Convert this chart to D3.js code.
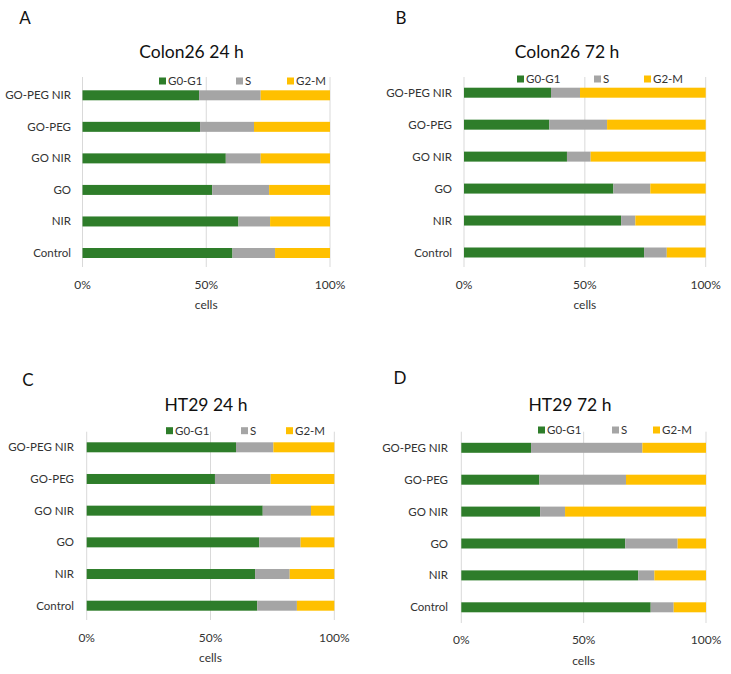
<!DOCTYPE html>
<html><head><meta charset="utf-8">
<script src="https://cdn.jsdelivr.net/npm/d3@7"></script>
<style>
html,body{margin:0;padding:0;background:#fff;}
svg{display:block;font-family:Lato,"Open Sans",sans-serif;}
</style></head>
<body><svg id="c" width="731" height="674"></svg>
<script>
// ---------- data ----------
const categories = ["GO-PEG NIR","GO-PEG","GO NIR","GO","NIR","Control"];
const series = ["G0-G1","S","G2-M"];
const xTicks = [0, 50, 100];
const titles = ["Colon26 24 h","Colon26 72 h","HT29 24 h","HT29 72 h"];
const panelLabels = ["A","B","C","D"];
// G0-G1 and S percentages per category (G2-M is the remainder to 100%)
const colon24_G0G1 = [47.1, 47.5, 57.9, 52.4, 63.0, 60.6];
const colon24_S    = [24.9, 21.8, 14.1, 23.0, 12.8, 17.2];
const colon72_G0G1 = [36.0, 35.3, 42.6, 61.8, 65.0, 74.5];
const colon72_S    = [12.0, 23.9,  9.8, 15.3,  5.9,  9.4];
const ht24_G0G1    = [60.3, 51.8, 71.1, 69.7, 68.0, 68.9];
const ht24_S       = [15.1, 22.5, 19.5, 16.7, 14.0, 16.0];
const ht72_G0G1    = [28.5, 31.9, 32.2, 67.0, 72.3, 77.4];
const ht72_S       = [45.5, 35.4, 10.2, 21.4,  6.6,  9.4];

const colors = {"G0-G1":"#2E7D2A","S":"#A5A5A5","G2-M":"#FFC000"};

// ---------- layout ----------
const layouts = [
  {x0:82.5, x1:330, c0:95.3, c5:253, gt:77, gb:267, ly:81, lx:[159,236,287], tx:191.5, ty:52, lbx:25, lby:18, cr:71, tky:285, cy:305},
  {x0:464, x1:705.7, c0:92.7, c5:252.5, gt:77, gb:267, ly:79, lx:[517,594,644], tx:567, ty:52, lbx:401, lby:18, cr:452, tky:285, cy:305},
  {x0:86.7, x1:334.3, c0:447.3, c5:605.7, gt:431.7, gb:620, ly:430.7, lx:[166,241,286], tx:206, ty:405, lbx:28, lby:380, cr:74, tky:638, cy:658},
  {x0:461.3, x1:706, c0:447.8, c5:607.3, gt:431.7, gb:623, ly:430, lx:[538,612,653], tx:570, ty:405, lbx:400, lby:378, cr:448, tky:640, cy:661}
];
const g1s = [colon24_G0G1, colon72_G0G1, ht24_G0G1, ht72_G0G1];
const ss  = [colon24_S, colon72_S, ht24_S, ht72_S];

const svg = d3.select("#c");
const txt = "#333333";

layouts.forEach((L, i) => {
  const g = svg.append("g");
  const rows = categories.map((c, k) => {
    const a = g1s[i][k], b = ss[i][k];
    return {cat:c, "G0-G1":a, "S":b, "G2-M":100 - a - b};
  });
  const stack = d3.stack().keys(series)(rows);
  const x = d3.scaleLinear().domain([0,100]).range([L.x0, L.x1]);
  const y = d3.scalePoint().domain(categories).range([L.c0, L.c5]);
  const bh = 10;

  // gridlines
  g.selectAll("line.grid").data(xTicks).join("line")
    .attr("x1", d => x(d)).attr("x2", d => x(d))
    .attr("y1", L.gt).attr("y2", L.gb)
    .attr("stroke", "#D9D9D9").attr("stroke-width", 1);

  // bars
  stack.forEach(s => {
    g.append("g").attr("fill", colors[s.key]).selectAll("rect").data(s).join("rect")
      .attr("x", d => x(d[0])).attr("width", d => x(d[1]) - x(d[0]))
      .attr("y", d => y(d.data.cat) - bh/2).attr("height", bh);
  });

  // category labels
  g.selectAll("text.cat").data(categories).join("text")
    .attr("x", L.cr).attr("y", d => y(d)).attr("dy", "0.35em")
    .attr("text-anchor", "end").attr("font-size", 11.5).attr("fill", txt).text(d => d);

  // x tick labels
  g.selectAll("text.tick").data(xTicks).join("text")
    .attr("x", d => x(d)).attr("y", L.tky).attr("dy", "0.35em")
    .attr("text-anchor", "middle").attr("font-size", 12).attr("fill", txt).text(d => d + "%");

  // axis title
  g.append("text").attr("x", x(50)).attr("y", L.cy).attr("dy", "0.35em")
    .attr("text-anchor", "middle").attr("font-size", 12).attr("fill", txt).text("cells");

  // chart title
  g.append("text").attr("x", L.tx).attr("y", L.ty).attr("dy", "0.35em")
    .attr("text-anchor", "middle").attr("font-size", 17.5).attr("fill", "#111").text(titles[i]);

  // panel label
  g.append("text").attr("x", L.lbx).attr("y", L.lby).attr("dy", "0.35em")
    .attr("text-anchor", "middle").attr("font-size", 17).attr("fill", "#111").text(panelLabels[i]);

  // legend
  series.forEach((s, k) => {
    g.append("rect").attr("x", L.lx[k]).attr("y", L.ly - 3.5).attr("width", 7).attr("height", 7).attr("fill", colors[s]);
    g.append("text").attr("x", L.lx[k] + 9).attr("y", L.ly).attr("dy", "0.35em")
      .attr("font-size", 11.5).attr("fill", txt).text(s);
  });
});
</script></body></html>
